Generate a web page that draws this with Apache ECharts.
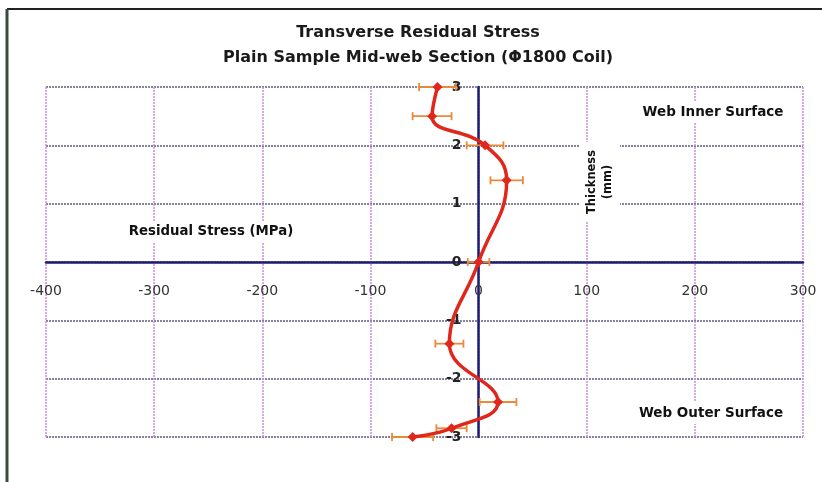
<!DOCTYPE html>
<html>
<head>
<meta charset="utf-8">
<script src="https://cdn.jsdelivr.net/npm/echarts@6/dist/echarts.min.js"></script>
<style>
  html, body { margin: 0; padding: 0; background: #fff; }
  #chart { width: 822px; height: 482px; }
</style>
</head>
<body>
<div id="chart"></div>
<script>
// Measured transverse residual stress through the web thickness
const thicknessMm = [3, 2.5, 2, 1.4, 0, -1.4, -2.4, -2.85, -3];
const stressMPa   = [-38, -43, 6, 26, 0, -27, 18, -25, -61];
const errorMPa    = [17, 18, 17, 15, 10, 13, 17, 14, 19];

const xTicks = [-400, -300, -200, -100, 0, 100, 200, 300];
const yTicks = [-3, -2, -1, 0, 1, 2, 3];

const titleLines = ['Transverse Residual Stress', 'Plain Sample Mid-web Section (\u03A61800 Coil)'];
const xAxisTitle = 'Residual Stress (MPa)';
const yAxisTitle = 'Thickness\n(mm)';
const innerLabel = 'Web Inner Surface';
const outerLabel = 'Web Outer Surface';

const BOLD_FONT = '"DejaVu Sans", sans-serif';
const TICK_FONT = '"DejaVu Sans", sans-serif';

// plot area layout
const W = 822, H = 482;
const G = { left: 46, right: 19, top: 87, bottom: 45 };
const plotW = W - G.left - G.right;
const plotH = H - G.top - G.bottom;
const xMin = xTicks[0], xMax = xTicks[xTicks.length - 1];
const yMin = yTicks[0], yMax = yTicks[yTicks.length - 1];
// shift both axes so they cross at the origin, with their labels alongside
const xAxisShift = -plotH * (0 - yMin) / (yMax - yMin);
const yAxisShift = -plotW * (0 - xMin) / (xMax - xMin);

const points = thicknessMm.map((t, i) => [stressMPa[i], t]);
const errData = thicknessMm.map((t, i) => [stressMPa[i], t, errorMPa[i]]);

const chart = echarts.init(document.getElementById('chart'), null, { renderer: 'canvas' });

function label(x, y, text, size, opts) {
  opts = opts || {};
  const style = {
    text: text, fontFamily: BOLD_FONT, fontSize: size, fontWeight: 'bold', fill: opts.fill || '#111',
    align: 'center', verticalAlign: 'middle'
  };
  if (opts.box) { style.backgroundColor = '#fff'; style.padding = opts.padding || [4, 4]; }
  if (opts.lineHeight) style.lineHeight = opts.lineHeight;
  const el = { type: 'text', z: 100, x: x, y: y, style: style };
  if (opts.rotation) el.rotation = opts.rotation;
  return el;
}

chart.setOption({
  backgroundColor: '#ffffff',
  animation: false,
  grid: { left: G.left, right: G.right, top: G.top, bottom: G.bottom },
  xAxis: {
    type: 'value',
    min: xMin,
    max: xMax,
    interval: 100,
    offset: xAxisShift,
    axisLine: { onZero: false, lineStyle: { color: '#1c1c72', width: 2.5 } },
    axisTick: { show: false },
    axisLabel: { margin: 22, fontFamily: TICK_FONT, fontSize: 14, color: '#333' },
    splitLine: { show: true, lineStyle: { color: '#cf8ce0', width: 1.5, type: [2, 1] } }
  },
  yAxis: {
    type: 'value',
    min: yMin,
    max: yMax,
    interval: 1,
    offset: yAxisShift,
    axisLine: { onZero: false, lineStyle: { color: '#1c1c72', width: 2.5 } },
    axisTick: { show: false },
    axisLabel: { margin: 17, fontFamily: TICK_FONT, fontSize: 14, fontWeight: 'bold', color: '#222' },
    splitLine: { show: true, lineStyle: { color: '#5e5a80', width: 1.5, type: [2, 1] } }
  },
  graphic: [
    // chart frame (top and left edges)
    { type: 'line', z: 100, shape: { x1: 7, y1: 9, x2: 822, y2: 9 }, style: { stroke: '#222', lineWidth: 2 } },
    { type: 'line', z: 100, shape: { x1: 7, y1: 9, x2: 7, y2: 482 }, style: { stroke: '#3b4a3e', lineWidth: 3 } },
    label(418, 33, titleLines[0], 16, { fill: '#1a1a1a' }),
    label(418, 58, titleLines[1], 16, { fill: '#1a1a1a' }),
    label(211, 232, xAxisTitle, 13.3, { box: true }),
    label(600, 182, yAxisTitle, 11.5, { box: true, rotation: Math.PI / 2, lineHeight: 16, padding: [4, 8] }),
    label(713, 112, innerLabel, 13.5, { box: true }),
    label(711, 413, outerLabel, 13.5, { box: true })
  ],
  series: [
    {
      type: 'custom',
      name: 'error',
      z: 3,
      data: errData,
      renderItem: function (params, api) {
        const x = api.value(0), y = api.value(1), e = api.value(2);
        const p1 = api.coord([x - e, y]);
        const p2 = api.coord([x + e, y]);
        const cap = 4;
        const st = { stroke: '#e98a3a', lineWidth: 1.8 };
        return {
          type: 'group',
          children: [
            { type: 'line', shape: { x1: p1[0], y1: p1[1], x2: p2[0], y2: p2[1] }, style: st },
            { type: 'line', shape: { x1: p1[0], y1: p1[1] - cap, x2: p1[0], y2: p1[1] + cap }, style: st },
            { type: 'line', shape: { x1: p2[0], y1: p2[1] - cap, x2: p2[0], y2: p2[1] + cap }, style: st }
          ]
        };
      }
    },
    {
      type: 'line',
      name: 'stress',
      z: 4,
      data: points,
      smooth: 0.45,
      symbol: 'diamond',
      symbolSize: 10,
      lineStyle: { color: '#e1261c', width: 3.5 },
      itemStyle: { color: '#e1261c' }
    }
  ]
});
</script>
</body>
</html>
